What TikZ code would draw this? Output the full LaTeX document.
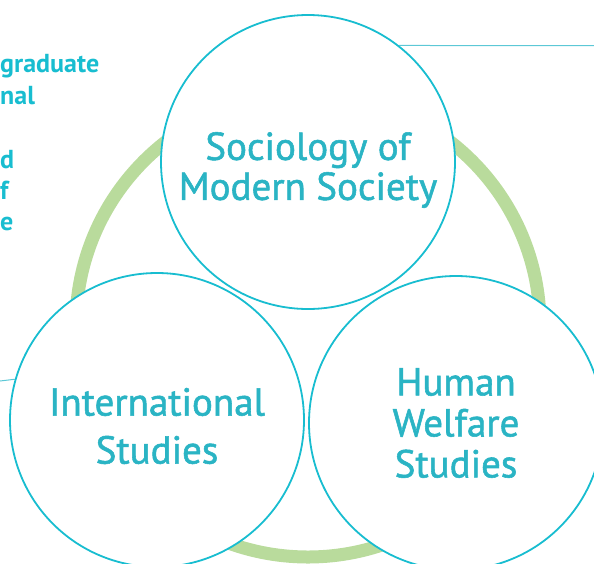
\documentclass[tikz,border=0pt]{standalone}
\usepackage{fontspec}
\setmainfont{PT Sans}
\newfontfamily\fieldfont[FakeBold=1.4]{PT Sans}
\usepackage{tikz}
\usetikzlibrary{shapes,backgrounds}

\definecolor{rim}{HTML}{18BDD0}
\definecolor{word}{HTML}{2AB4C4}
\definecolor{leaf}{HTML}{B9DB9C}
\definecolor{rule}{HTML}{5CC8D6}

\tikzset{
	field/.style={circle, draw=rim, line width=1.8pt, fill=white, minimum size=294pt, inner sep=0pt},
	caption/.style={text=word, align=center, inner sep=0pt},
	ring/.style={draw=leaf, line width=13pt},
	side/.style={anchor=base west, inner sep=0pt, text=rim, font=\fontsize{26}{26}\selectfont\bfseries}
}

\begin{document}
\begin{tikzpicture}[x=1pt, y=-1pt]
	\useasboundingbox (0, 0) rectangle (594, 563);
	\coordinate (hub) at (308, 325);
	\coordinate (topend) at (594, 45.7);
	\coordinate (leftend) at (0, 381);
	% ring behind the three fields
	\draw[ring] (hub) circle (232);
	\node[side] (s1) at (0, 72) {graduate};
	\node[side] (s2) at (0, 104) {nal};
	\node[side] (s3) at (0, 168) {d};
	\node[side] (s4) at (0, 199) {f};
	\node[side] (s5) at (0, 230) {e};
	\node[field] (soc) at (308, 162) {};
	\node[field] (intl) at (157, 420) {};
	\node[field] (welf) at (456, 423) {};
	\node[caption, font=\fieldfont\fontsize{39}{40}\selectfont, yshift=-8pt] (soctext) at (soc) {Sociology of\\Modern Society};
	\node[caption, font=\fieldfont\fontsize{39}{48}\selectfont, yshift=-6pt] (intltext) at (intl) {International\\Studies};
	\node[caption, font=\fieldfont\fontsize{39}{41}\selectfont, yshift=0pt] (welftext) at (welf) {Human\\Welfare\\Studies};
	\draw[rule, line width=1pt] (soc.52.2) -- (topend);
	\draw[rule, line width=1pt] (intl.164.6) -- (leftend);
\end{tikzpicture}
\end{document}
